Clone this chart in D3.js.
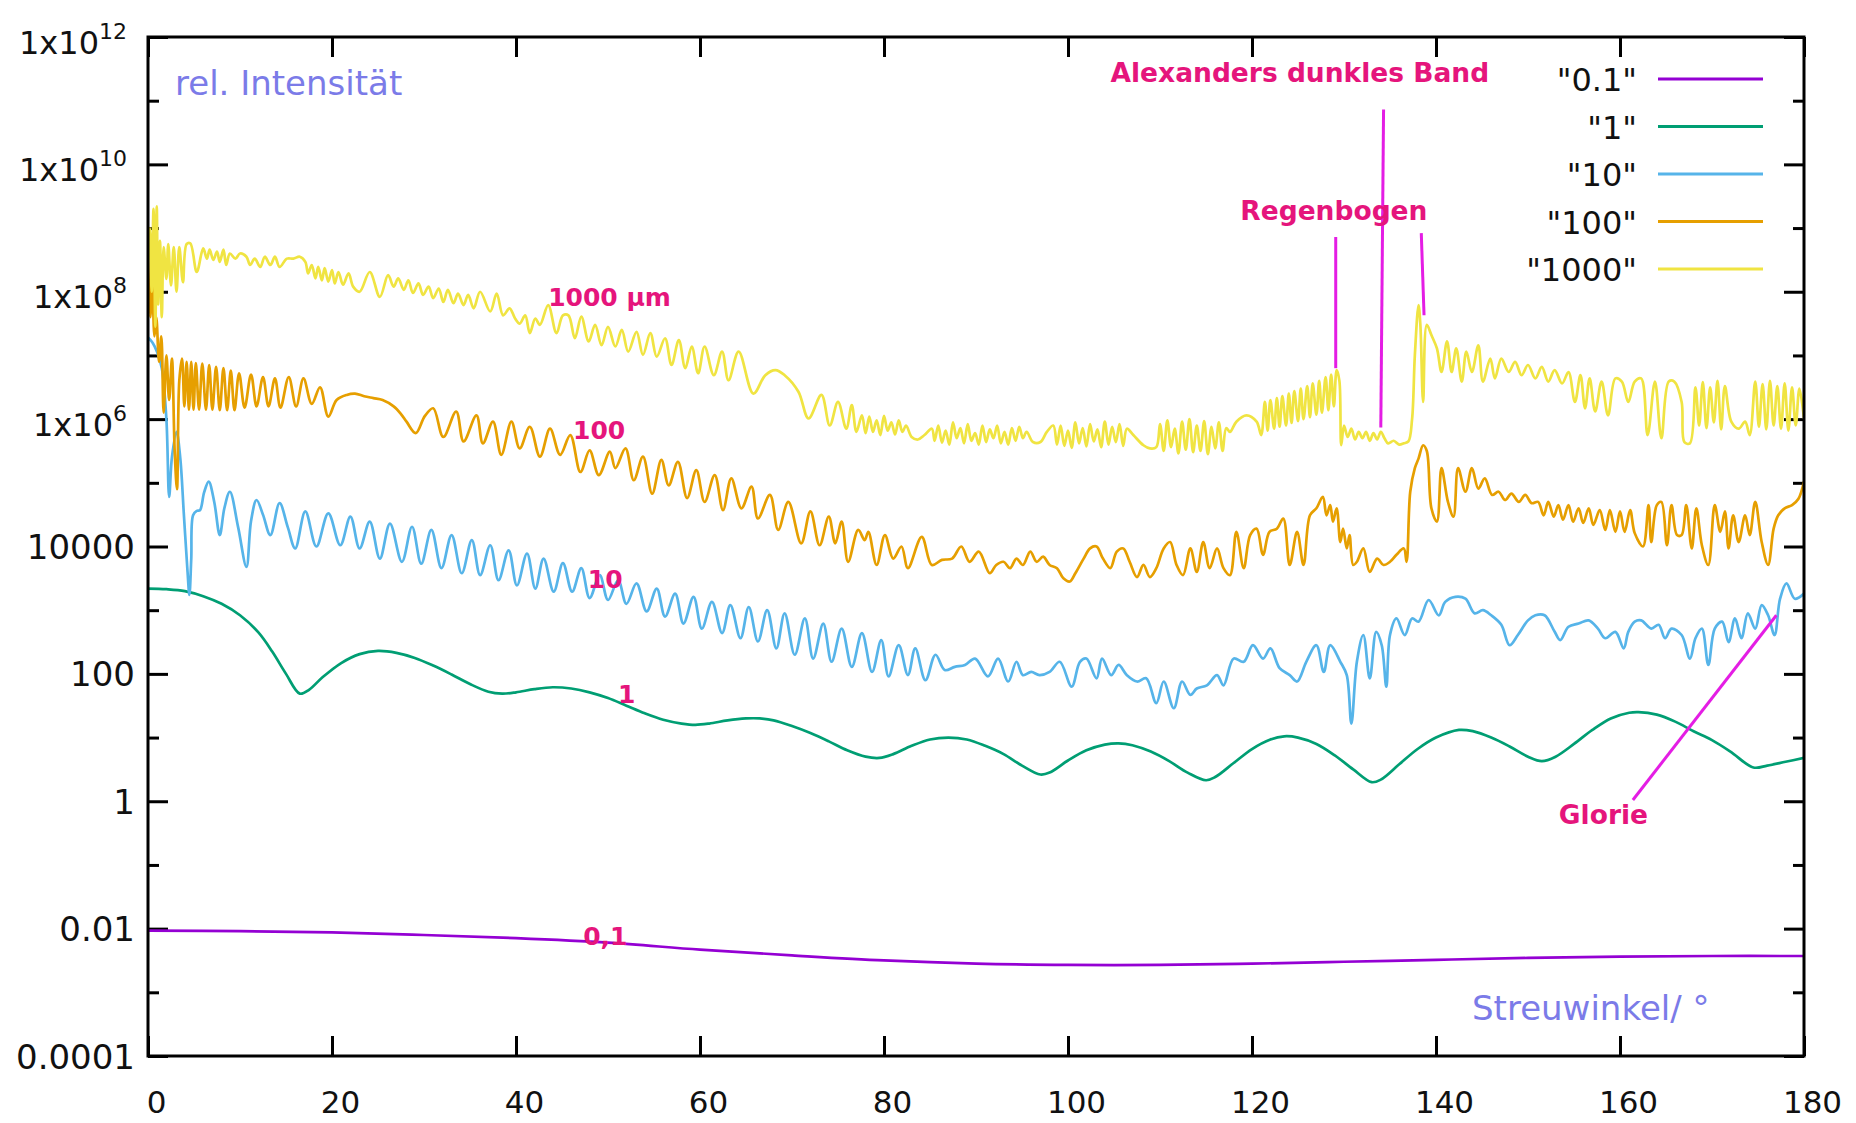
<!DOCTYPE html>
<html>
<head>
<meta charset="utf-8">
<script src="https://cdn.jsdelivr.net/npm/d3@7"></script>
<style>
  body { margin: 0; background: #fff; }
  text { font-family: "DejaVu Sans", Verdana, sans-serif; }
</style>
</head>
<body>
<svg id="chart" width="1856" height="1123"></svg>
<script>
// Droplet diameters (µm) and their line colours
const seriesNames = ["0.1", "1", "10", "100", "1000"];
const seriesColors = ["#9400d3", "#009e73", "#56b4e9", "#e69f00", "#f0e442"];

// Axis ticks
const xTicks = [0, 20, 40, 60, 80, 100, 120, 140, 160, 180];
const yMajor = [1e-4, 1e-2, 1, 1e2, 1e4, 1e6, 1e8, 1e10, 1e12];
const yMinor = [1e-3, 1e-1, 1e1, 1e3, 1e5, 1e7, 1e9, 1e11];
const yTickText = [["0.0001", ""], ["0.01", ""], ["1", ""], ["100", ""], ["10000", ""],
                   ["1x10", "6"], ["1x10", "8"], ["1x10", "10"], ["1x10", "12"]];

// Each series: [scattering angle / °, log10 of relative intensity]
const lg01 = [[0,-2.03],[10,-2.04],[20,-2.06],[30,-2.1],[40,-2.15],[50,-2.22],[60,-2.33],[70,-2.42],
  [80,-2.5],[90,-2.55],[100,-2.57],[110,-2.57],[120,-2.55],[130,-2.52],[140,-2.49],[150,-2.46],
  [160,-2.44],[170,-2.43],[180,-2.43]];

const lg1 = [[0,3.34],[2,3.33],[4,3.3],[6,3.22],[8,3.1],[10,2.92],[12,2.65],[13.5,2.35],[15,2.0],
  [16.5,1.69],[17.5,1.75],[19,1.95],[21,2.17],[23,2.31],[25,2.36],[27,2.33],[29,2.25],[31,2.13],
  [33,1.99],[35,1.84],[37,1.72],[38.5,1.69],[40,1.71],[42,1.76],[44,1.79],[46,1.77],[48,1.71],
  [50,1.62],[52,1.5],[54,1.38],[56,1.28],[58,1.22],[59.5,1.2],[61,1.22],[63,1.27],[65,1.3],
  [66.5,1.3],[68,1.27],[70,1.18],[72,1.07],[74,0.94],[76,0.8],[78,0.7],[79.5,0.68],[81,0.74],
  [83,0.87],[85,0.97],[87,1.0],[89,0.97],[91,0.87],[93,0.74],[95,0.56],[97,0.42],[98,0.45],
  [100,0.64],[102,0.8],[104,0.89],[105.5,0.91],[107,0.88],[109,0.78],[111,0.63],[113,0.45],
  [115,0.33],[116,0.38],[118,0.6],[120,0.82],[122,0.97],[123.5,1.02],[125,1.0],[127,0.9],
  [129,0.72],[131,0.5],[133,0.3],[134,0.34],[136,0.58],[138,0.82],[140,1.0],[142.5,1.12],
  [144,1.1],[146,1.0],[148,0.86],[150,0.7],[151.5,0.63],[153,0.7],[155,0.9],[157,1.12],
  [159,1.3],[161,1.39],[162,1.4],[164,1.36],[166,1.25],[168,1.1],[170,0.96],[172,0.78],
  [174.5,0.53],[176,0.56],[178,0.62],[180,0.68]];

const lg10 = [[0,7.28],[0.5,7.2],[1,7.05],[1.5,6.8],[2,6.0],[2.3,4.78],[2.6,5.4],[3.1,5.8],[3.5,5.4],
  [3.9,4.5],[4.3,3.6],[4.5,3.24],[4.7,3.8],[4.9,4.49],[5.3,4.56],[5.65,4.57],[6.1,4.85],[6.6,5.02],
  [7.2,4.7],[7.8,4.18],[8.3,4.6],[8.9,4.86],[9.8,4.3],[10.7,3.68],[11.2,4.4],[11.8,4.73],[12.5,4.5],
  [13.3,4.18],[14.3,4.68],[15.2,4.3],[16,3.97],[17.1,4.55],[18.3,4.0],[19.6,4.52],[20.9,4.02],
  [22,4.47],[23,3.97],[24.1,4.39],[25.2,3.81],[26.3,4.36],[27.6,3.76],[28.7,4.31],[29.7,3.73],
  [30.8,4.26],[31.9,3.66],[33,4.18],[34.1,3.58],[35.2,4.1],[36.1,3.55],[37.2,4.02],[38.1,3.47],
  [39.2,3.94],[40.1,3.39],[41.2,3.89],[42.1,3.34],[43,3.81],[44.1,3.29],[45.1,3.74],[46.1,3.29],
  [47.1,3.66],[48,3.19],[49.1,3.55],[50,3.16],[51.1,3.47],[52,3.1],[53.1,3.42],[54.2,2.98],
  [55.3,3.34],[56.2,2.9],[57.3,3.26],[58.2,2.79],[59.3,3.21],[60.2,2.71],[61.3,3.13],[62.4,2.64],
  [63.3,3.08],[64.4,2.56],[65.3,3.05],[66.3,2.51],[67.3,3.0],[68.3,2.4],[69.2,2.95],[70.3,2.3],
  [71.4,2.87],[72.3,2.24],[73.4,2.79],[74.3,2.19],[75.4,2.71],[76.5,2.11],[77.6,2.64],[78.7,2.03],
  [79.7,2.53],[80.5,1.96],[81.6,2.45],[82.6,1.98],[83.4,2.4],[84.5,1.9],[85.6,2.3],[86.6,2.06],
  [87.7,2.11],[88.8,2.14],[89.9,2.24],[91.3,1.96],[92.4,2.24],[93.5,1.88],[94.4,2.19],[95.1,1.98],
  [96,2.03],[96.9,1.98],[98,2.03],[99.1,2.19],[100.4,1.8],[101.3,2.19],[102,2.24],[103.1,1.93],
  [103.7,2.24],[104.7,1.98],[105.5,2.14],[106.4,1.98],[107.5,1.88],[108.5,1.93],[109.6,1.54],
  [110.4,1.88],[111.5,1.46],[112.4,1.88],[113.3,1.67],[114,1.77],[115.1,1.82],[116.2,1.98],
  [116.9,1.82],[118,2.24],[119.1,2.19],[120.1,2.45],[121.2,2.24],[122,2.4],[123,2.09],[124.1,1.98],
  [124.9,1.88],[125.9,2.19],[127,2.45],[127.8,2.03],[128.5,2.45],[129.6,2.19],[130.3,1.98],
  [130.8,1.22],[131.4,2.19],[132.1,2.61],[132.8,1.93],[133.5,2.66],[134.1,2.45],[134.6,1.8],
  [135,2.61],[135.7,2.87],[136.6,2.61],[137.4,2.87],[138.1,2.82],[139.2,3.16],[140.3,2.92],
  [141,3.13],[142.1,3.21],[143.2,3.18],[144.2,2.95],[145.1,3.0],[146,2.92],[147.1,2.77],[148,2.45],
  [148.9,2.61],[150,2.84],[150.8,2.92],[151.8,2.92],[152.9,2.66],[153.5,2.53],[154.4,2.74],
  [155.5,2.79],[156.6,2.84],[157.6,2.71],[158.4,2.56],[159.5,2.66],[160.4,2.4],[160.9,2.66],
  [161.6,2.82],[162.3,2.84],[163.4,2.71],[164.2,2.77],[164.9,2.56],[165.6,2.71],[166.7,2.61],
  [167.6,2.24],[168.2,2.56],[168.9,2.71],[169.6,2.14],[170.3,2.71],[171.1,2.82],[171.8,2.5],
  [172.5,2.87],[173.2,2.56],[173.9,2.95],[174.7,2.71],[175.4,3.08],[176.1,2.92],[176.8,2.61],
  [177.4,3.18],[178.1,3.42],[179,3.18],[180,3.26]];

const lg100 = [[0,8.55],[0.25,7.6],[0.45,8.2],[0.7,7.3],[0.9,7.6],[1.2,6.9],[1.45,7.3],[1.7,6.1],
  [2,7.0],[2.3,6.3],[2.6,6.95],[2.9,5.5],[3.15,4.9],[3.4,6.6],[3.7,6.95],[3.95,6.2],[4.2,6.9],
  [4.45,6.15],[4.7,6.9],[4.95,6.15],[5.2,6.88],[5.55,6.15],[5.9,6.87],[6.3,6.15],[6.65,6.85],
  [7,6.15],[7.4,6.82],[7.8,6.14],[8.2,6.8],[8.6,6.14],[9,6.76],[9.4,6.14],[9.9,6.72],[10.5,6.18],
  [11.2,6.7],[11.8,6.2],[12.5,6.66],[13.1,6.2],[13.8,6.64],[14.4,6.18],[15.3,6.66],[16.1,6.2],
  [16.9,6.64],[17.8,6.24],[18.7,6.5],[19.6,6.04],[20.5,6.3],[21.6,6.38],[22.5,6.4],[23.5,6.36],
  [24.5,6.33],[25.5,6.3],[26.7,6.2],[27.5,6.08],[28.1,5.96],[29.1,5.78],[30.1,6.05],[31,6.17],
  [32.1,5.72],[33.5,6.12],[34.3,5.65],[35.7,6.06],[36.4,5.62],[37.5,5.96],[38.4,5.44],[39.5,5.96],
  [40.4,5.54],[41.5,5.88],[42.6,5.41],[43.7,5.85],[44.8,5.44],[45.9,5.75],[47,5.17],[48,5.51],
  [49,5.12],[50.2,5.49],[50.8,5.23],[51.9,5.54],[52.8,5.04],[53.8,5.41],[54.8,4.83],[55.8,5.36],
  [56.6,4.96],[57.6,5.33],[58.6,4.76],[59.6,5.2],[60.5,4.7],[61.6,5.12],[62.5,4.57],[63.4,5.07],
  [64.5,4.6],[65.6,4.94],[66.3,4.44],[67.6,4.81],[68.5,4.26],[69.6,4.7],[71,4.05],[72,4.55],
  [73,4.02],[74,4.47],[74.7,4.05],[75.4,4.39],[76.1,3.76],[77.2,4.26],[77.9,4.1],[78.3,4.23],
  [79.2,3.71],[80.1,4.18],[81,3.81],[81.9,4.0],[82.6,3.66],[84.1,4.15],[85.2,3.71],[86.3,3.79],
  [87.4,3.81],[88.4,4.0],[89.3,3.76],[90.3,3.92],[91.5,3.58],[92.2,3.71],[93,3.76],[93.7,3.66],
  [94.4,3.81],[95.1,3.71],[95.9,3.92],[96.6,3.76],[97.3,3.84],[98,3.71],[98.8,3.66],[99.5,3.5],
  [100.2,3.45],[100.8,3.58],[101.7,3.81],[102.4,3.97],[103.1,4.0],[103.8,3.81],[104.6,3.66],
  [105.3,3.92],[106,3.97],[106.7,3.76],[107.5,3.52],[108.2,3.71],[108.9,3.52],[109.6,3.66],
  [110.4,3.97],[111.1,4.07],[111.8,3.71],[112.5,3.55],[113.3,3.97],[114,3.6],[114.7,4.07],
  [115.4,3.66],[116.2,3.97],[116.9,3.66],[117.6,3.55],[118.3,4.23],[119.1,3.66],[119.8,4.18],
  [120.5,4.28],[121.2,3.87],[121.9,4.23],[122.7,4.28],[123.4,4.44],[124.1,3.71],[124.9,4.23],
  [125.6,3.71],[126.3,4.49],[127,4.6],[127.7,4.78],[128.1,4.49],[128.5,4.65],[128.8,4.39],
  [129.2,4.6],[129.6,4.07],[129.9,4.28],[130.3,3.97],[130.6,4.18],[131,3.71],[131.4,3.76],
  [132.1,3.97],[132.8,3.6],[133.6,3.81],[134.3,3.71],[135,3.76],[135.7,3.87],[136.5,3.97],
  [136.8,3.76],[137.2,4.86],[137.7,5.23],[138.1,5.38],[138.6,5.59],[139,5.5],[139.5,4.6],
  [140.1,4.39],[140.6,5.23],[141.3,4.7],[141.9,4.47],[142.4,5.23],[143.2,4.86],[143.9,5.23],
  [144.6,4.91],[145.3,5.07],[146.1,4.81],[146.8,4.86],[147.5,4.73],[148.2,4.83],[149,4.7],
  [149.7,4.81],[150.4,4.68],[151.1,4.7],[151.7,4.49],[152.2,4.7],[152.8,4.47],[153.3,4.65],
  [153.8,4.42],[154.4,4.65],[154.9,4.39],[155.5,4.6],[156,4.37],[156.6,4.6],[157.1,4.34],
  [157.8,4.57],[158.4,4.26],[158.9,4.57],[159.5,4.23],[160,4.55],[160.5,4.23],[161.1,4.57],
  [161.6,4.21],[162.5,4.0],[163.1,4.65],[163.4,4.07],[164,4.65],[164.5,4.7],[165.1,4.02],
  [165.6,4.65],[166.2,4.18],[166.7,4.18],[167.2,4.65],[167.8,3.97],[168.3,4.6],[168.9,4.02],
  [169.6,3.71],[170.3,4.65],[170.9,4.23],[171.4,4.55],[171.8,3.97],[172.3,4.49],[172.9,4.07],
  [173.6,4.49],[174.1,4.18],[174.7,4.7],[175.4,4.07],[176.1,3.71],[176.7,4.28],[177.2,4.49],
  [177.9,4.6],[178.7,4.65],[179.4,4.75],[180,5.02]];

const lg1000 = [[0,8.5],[0.2,9.0],[0.4,8.0],[0.6,9.3],[0.8,7.45],[0.95,9.34],[1.1,7.8],[1.3,8.8],
  [1.5,7.6],[1.7,8.7],[2,8.2],[2.2,8.75],[2.5,8.1],[2.8,8.7],[3.1,8.0],[3.4,8.7],[3.8,8.15],
  [4.2,8.75],[4.6,8.76],[5.3,8.31],[6,8.68],[6.4,8.52],[6.7,8.66],[7.1,8.5],[7.5,8.63],[7.8,8.47],
  [8.2,8.66],[8.5,8.42],[8.9,8.6],[9.5,8.52],[10,8.6],[10.7,8.55],[11.1,8.42],[11.6,8.52],
  [12.2,8.39],[12.7,8.55],[13.3,8.42],[13.8,8.55],[14.3,8.39],[15.1,8.52],[15.8,8.52],[16.5,8.55],
  [17.1,8.47],[17.4,8.29],[17.8,8.42],[18.2,8.21],[18.5,8.39],[18.9,8.18],[19.2,8.37],[19.6,8.16],
  [20,8.34],[20.3,8.13],[20.7,8.31],[21.2,8.11],[21.8,8.29],[22.3,8.08],[23,8.0],[24.1,8.31],
  [25.2,7.92],[26.1,8.26],[26.7,8.08],[27.2,8.21],[27.8,8.03],[28.3,8.18],[28.8,7.98],[29.4,8.13],
  [29.9,7.95],[30.5,8.08],[31,7.9],[31.6,8.05],[32.1,7.84],[32.6,8.03],[33.2,7.82],[33.7,7.97],
  [34.3,7.79],[34.8,7.95],[35.4,7.74],[36.1,8.0],[37.2,7.69],[37.9,7.97],[38.6,7.63],[39.3,7.74],
  [39.9,7.58],[40.4,7.5],[41,7.63],[41.5,7.35],[42.1,7.58],[42.6,7.48],[43.5,7.79],[44.4,7.35],
  [45.1,7.63],[45.7,7.63],[46.4,7.27],[47.1,7.61],[47.9,7.22],[48.6,7.48],[49.3,7.16],[50,7.45],
  [50.8,7.14],[51.5,7.4],[52.2,7.06],[53.1,7.37],[53.8,7.01],[54.6,7.35],[55.3,6.98],[56.2,7.27],
  [56.9,6.85],[57.7,7.24],[58.4,6.8],[59.1,7.14],[59.8,6.72],[60.5,7.14],[61.5,6.69],[62.4,7.06],
  [63.1,6.61],[64.2,7.06],[65.8,6.4],[67.1,6.69],[68.2,6.77],[69.2,6.69],[70.7,6.43],[71.8,6.01],
  [73.2,6.38],[74.1,5.9],[75,6.27],[75.9,5.85],[76.5,6.22],[77,5.8],[77.6,6.06],[78,5.78],
  [78.4,6.04],[78.8,5.8],[79.2,5.98],[79.6,5.75],[80,6.05],[80.4,5.82],[80.8,5.95],[81.2,5.76],
  [81.6,5.98],[82,5.8],[82.4,5.9],[83,5.72],[83.7,5.68],[84.4,5.75],[85.2,5.85],[85.5,5.66],
  [85.9,5.9],[86.3,5.63],[86.7,5.82],[87.1,5.6],[87.5,5.95],[87.9,5.7],[88.3,5.86],[88.7,5.62],
  [89.1,5.92],[89.5,5.66],[89.9,5.78],[90.3,5.6],[90.7,5.9],[91.1,5.64],[91.5,5.84],[91.9,5.7],
  [92.3,5.9],[92.7,5.62],[93.1,5.8],[93.5,5.6],[93.9,5.86],[94.3,5.66],[94.7,5.88],[95.1,5.7],
  [95.5,5.8],[96.2,5.64],[97,5.64],[97.7,5.8],[98.4,5.9],[98.8,5.6],[99.2,5.9],[99.6,5.58],
  [100,5.82],[100.4,5.55],[100.8,5.95],[101.2,5.62],[101.6,5.86],[102,5.57],[102.4,5.92],
  [102.8,5.65],[103.2,5.84],[103.6,5.56],[104,5.96],[104.4,5.6],[104.8,5.88],[105.2,5.64],
  [105.6,5.92],[106,5.58],[106.4,5.85],[107.1,5.75],[108.2,5.59],[108.9,5.54],[109.6,5.56],
  [110,5.92],[110.4,5.5],[110.8,5.98],[111.2,5.56],[111.6,5.85],[112,5.46],[112.4,5.96],
  [112.8,5.52],[113.2,6.0],[113.6,5.48],[114,5.9],[114.4,5.5],[114.8,5.97],[115.2,5.45],
  [115.6,5.88],[116,5.54],[116.4,5.95],[116.8,5.5],[117.2,5.86],[117.6,5.8],[118.3,5.96],
  [119.4,6.06],[120.5,5.96],[121,5.75],[121.4,6.27],[121.7,5.82],[122,6.3],[122.4,5.85],
  [122.7,6.33],[123,5.88],[123.3,6.36],[123.7,5.9],[124,6.4],[124.3,5.94],[124.6,6.44],[125,5.97],
  [125.3,6.48],[125.6,6.0],[126,6.52],[126.3,6.03],[126.6,6.56],[127,6.07],[127.3,6.6],[127.6,6.1],
  [128,6.66],[128.3,6.14],[128.6,6.7],[128.9,6.2],[129.2,6.77],[129.5,6.6],[129.7,5.59],[130,5.9],
  [130.4,5.72],[130.8,5.85],[131.2,5.68],[131.6,5.8],[132,5.7],[132.4,5.8],[132.8,5.66],
  [133.2,5.78],[133.6,5.68],[134,5.8],[134.4,5.7],[134.8,5.62],[135.4,5.66],[136,5.6],[136.5,5.62],
  [137,5.65],[137.4,6.0],[137.7,7.0],[138.1,7.79],[138.3,7.48],[138.6,6.27],[139,7.48],
  [139.5,7.32],[140.1,7.11],[140.6,6.74],[141.2,7.22],[141.7,6.74],[142.2,7.11],[142.8,6.59],
  [143.3,7.06],[143.9,6.74],[144.6,7.16],[145.1,6.59],[145.9,6.95],[146.4,6.64],[147.1,6.95],
  [147.9,6.74],[148.6,6.9],[149.3,6.69],[150,6.85],[150.8,6.64],[151.5,6.82],[152.2,6.59],
  [152.9,6.77],[153.7,6.56],[154.4,6.74],[155.1,6.27],[155.7,6.69],[156.2,6.17],[156.7,6.64],
  [157.3,6.12],[158,6.59],[158.7,6.06],[159.5,6.64],[160.2,6.59],[160.9,6.27],[161.6,6.59],
  [162.3,6.64],[163,5.75],[163.8,6.59],[164.5,5.7],[165.3,6.59],[165.9,6.59],[166.7,6.27],
  [167,5.64],[167.6,5.62],[168.2,6.5],[168.6,5.9],[169,6.58],[169.4,5.86],[169.8,6.5],[170.2,5.95],
  [170.6,6.6],[171,5.84],[171.4,6.52],[172.1,5.96],[172.9,5.85],[173.6,5.96],[174.1,5.75],
  [174.7,6.59],[175.1,5.88],[175.5,6.55],[175.9,5.84],[176.3,6.6],[176.7,5.9],[177.1,6.52],
  [177.5,5.85],[177.9,6.56],[178.3,5.82],[178.7,6.5],[179.1,5.9],[179.5,6.48],[180,6.01]];

const seriesData = [lg01, lg1, lg10, lg100, lg1000];

// Text annotations: [label, angle, log10 position]
const curveLabels = [["1000 µm", 43.5, 7.78], ["100", 46.2, 5.69], ["10", 47.8, 3.35],
                     ["1", 51.1, 1.54], ["0,1", 47.3, -2.26]];
const featureLabels = [["Alexanders dunkles Band", 125.2, 11.3], ["Regenbogen", 128.9, 9.12],
                       ["Glorie", 158.2, -0.36]];
// Pointer lines: [angle1, log1, angle2, log2]
const pointerLines = [[129.1, 8.86, 129.1, 6.8], [134.3, 10.86, 134.0, 5.87],
                      [138.4, 8.92, 138.7, 7.63], [161.4, 0.02, 177.0, 2.92]];

// ---------------------------------------------------------------------------
const svg = d3.select("#chart");
const W = 1856, H = 1123;
const m = { left: 148, right: 52, top: 37, bottom: 67 };
const pw = W - m.left - m.right, ph = H - m.top - m.bottom;

svg.append("rect").attr("width", W).attr("height", H).attr("fill", "#fff");

const x = d3.scaleLinear().domain([0, 180]).range([0, pw]);
const y = d3.scaleLog().domain([1e-4, 1e12]).range([ph, 0]);

const g = svg.append("g").attr("transform", `translate(${m.left},${m.top})`);

svg.append("defs").append("clipPath").attr("id", "plotClip")
  .append("rect").attr("width", pw).attr("height", ph);

function styleAxis(sel) {
  sel.select(".domain").remove();
  sel.selectAll(".tick line").attr("stroke", "#000").attr("stroke-width", 3);
  sel.selectAll(".tick text").attr("fill", "#111").attr("font-size", 32)
     .attr("font-family", "DejaVu Sans, Verdana, sans-serif");
}

// bottom axis
const gx = g.append("g").attr("transform", `translate(0,${ph})`)
  .call(d3.axisBottom(x).tickValues(xTicks).tickSizeInner(-20).tickSizeOuter(0).tickFormat(d3.format("d")))
  .call(styleAxis);
gx.selectAll(".tick text").attr("y", 57).attr("dy", 0).attr("dx", 8).attr("font-size", 31);

// top axis (mirrored ticks)
g.append("g")
  .call(d3.axisTop(x).tickValues(xTicks).tickSizeInner(-20).tickSizeOuter(0).tickFormat(""))
  .call(styleAxis);

// left axis: major ticks with labels, minor ticks without
const gy = g.append("g")
  .call(d3.axisLeft(y).tickValues(yMajor).tickSizeInner(-20).tickSizeOuter(0).tickPadding(21).tickFormat(""))
  .call(styleAxis);
gy.selectAll(".tick text").each(function(d, i) {
  const t = d3.select(this).attr("dy", null).text(null);
  const [base, exp] = yTickText[i];
  if (exp) {
    t.attr("y", 16);
    t.append("tspan").text(base);
    t.append("tspan").attr("dy", -15).attr("font-size", 22).text(exp);
  } else {
    t.attr("x", -13).attr("y", 12).attr("font-size", 34).text(base);
  }
});
g.append("g")
  .call(d3.axisLeft(y).tickValues(yMinor).tickSizeInner(-11).tickSizeOuter(0).tickFormat(""))
  .call(styleAxis);

// right axis (mirrored ticks)
g.append("g").attr("transform", `translate(${pw},0)`)
  .call(d3.axisRight(y).tickValues(yMajor).tickSizeInner(-20).tickSizeOuter(0).tickFormat(""))
  .call(styleAxis);
g.append("g").attr("transform", `translate(${pw},0)`)
  .call(d3.axisRight(y).tickValues(yMinor).tickSizeInner(-11).tickSizeOuter(0).tickFormat(""))
  .call(styleAxis);

// curves
const line = d3.line()
  .x(d => x(d[0]))
  .y(d => y(Math.pow(10, d[1])))
  .curve(d3.curveCatmullRom.alpha(0.5));

const plot = g.append("g").attr("clip-path", "url(#plotClip)");
seriesData.forEach((data, i) => {
  plot.append("path")
    .datum(data)
    .attr("fill", "none")
    .attr("stroke", seriesColors[i])
    .attr("stroke-width", 2.7)
    .attr("stroke-linejoin", "round")
    .attr("d", line);
});

// frame
g.append("rect").attr("width", pw).attr("height", ph)
  .attr("fill", "none").attr("stroke", "#000").attr("stroke-width", 3);

// axis titles
const titleColor = "#7b7be8";
g.append("text").attr("x", 27).attr("y", 58).attr("font-size", 34).attr("fill", titleColor)
  .text("rel. Intensität");
g.append("text").attr("x", 1324).attr("y", 983).attr("font-size", 34).attr("fill", titleColor)
  .text("Streuwinkel/ °");

// legend
const legend = g.append("g");
seriesNames.forEach((name, i) => {
  const ly = 42 + i * 47.5;
  legend.append("text").attr("x", 1489).attr("y", ly + 12).attr("text-anchor", "end")
    .attr("font-size", 32).attr("fill", "#111").text(`"${name}"`);
  legend.append("line").attr("x1", 1510).attr("x2", 1615).attr("y1", ly).attr("y2", ly)
    .attr("stroke", seriesColors[i]).attr("stroke-width", 3);
});

// annotations
const annColor = "#e5157c", pointerColor = "#e41de4";
pointerLines.forEach(p => {
  g.append("line")
    .attr("x1", x(p[0])).attr("y1", y(Math.pow(10, p[1])))
    .attr("x2", x(p[2])).attr("y2", y(Math.pow(10, p[3])))
    .attr("stroke", pointerColor).attr("stroke-width", 3);
});
featureLabels.forEach(f => {
  g.append("text").attr("x", x(f[1])).attr("y", y(Math.pow(10, f[2])))
    .attr("text-anchor", "middle").attr("font-size", 26.5).attr("font-weight", "bold")
    .attr("fill", annColor).text(f[0]);
});
curveLabels.forEach(c => {
  g.append("text").attr("x", x(c[1])).attr("y", y(Math.pow(10, c[2])))
    .attr("font-size", 25).attr("font-weight", "bold")
    .attr("fill", annColor).text(c[0]);
});
</script>
</body>
</html>
